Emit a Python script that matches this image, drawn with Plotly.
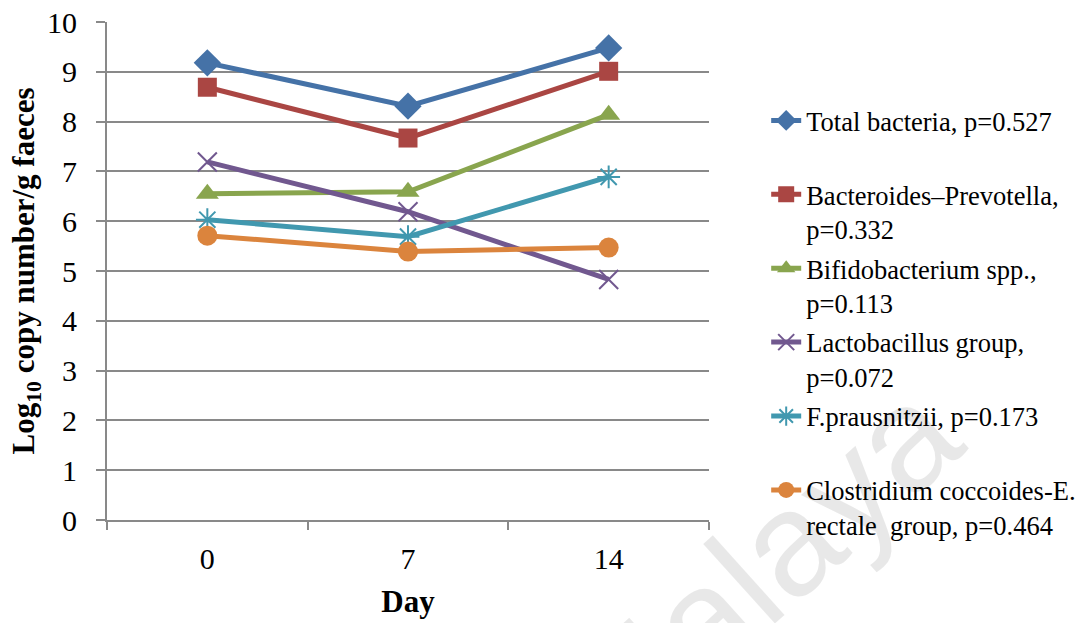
import plotly.graph_objects as go

# Sampling days (category axis) and log10 copy numbers per gram faeces
days = ["0", "7", "14"]

total_bacteria = [9.18, 8.31, 9.48]
bacteroides = [8.69, 7.67, 9.01]
bifidobacterium = [6.55, 6.59, 8.14]
lactobacillus = [7.19, 6.19, 4.83]
f_prausnitzii = [6.03, 5.69, 6.89]
clostridium = [5.71, 5.39, 5.47]

series_names = [
    "Total bacteria, p=0.527<br> ",
    "Bacteroides–Prevotella,<br>p=0.332",
    "Bifidobacterium spp.,<br>p=0.113",
    "Lactobacillus group,<br>p=0.072",
    "F.prausnitzii, p=0.173<br> ",
    "Clostridium coccoides-E.<br>rectale  group, p=0.464",
]
series_values = [total_bacteria, bacteroides, bifidobacterium,
                 lactobacillus, f_prausnitzii, clostridium]
colors = ["#4572A7", "#AA4643", "#89A54E", "#71588F", "#4198AF", "#DB843D"]
symbols = ["diamond", "square", "triangle-up", "x-thin-open",
           "asterisk-open", "circle"]
sizes = [21, 19, 20, 19, 19, 20]

GRID = "#898989"
FONT = "Liberation Serif"

fig = go.Figure()

# faint background watermark (translucent so overlapping text stays black)
fig.add_annotation(
    text="Malaya", xref="paper", yref="paper", x=1.473, y=-0.55,
    showarrow=False, textangle=-42,
    font=dict(family="Liberation Sans", size=148, color="rgba(0,0,0,0.09)"),
)

for i, (name, vals) in enumerate(zip(series_names, series_values)):
    thin = symbols[i].endswith("-open")
    fig.add_trace(go.Scatter(
        x=days, y=vals, name=name, mode="lines+markers",
        legendgroup=f"g{i}",
        line=dict(color=colors[i], width=5),
        marker=dict(symbol=symbols[i], size=sizes[i], color=colors[i],
                    line=dict(color=colors[i], width=2 if thin else 0)),
    ))

fig.update_layout(
    width=1087, height=623,
    margin=dict(l=107, r=378, t=22, b=103, autoexpand=False),
    paper_bgcolor="white", plot_bgcolor="white",
    font=dict(family=FONT, color="black"),
    showlegend=True,
    legend=dict(
        x=1.095, xanchor="left", y=0.85, yanchor="top",
        font=dict(family=FONT, size=26.5, color="black"),
        traceorder="grouped", tracegroupgap=2, valign="top",
        bgcolor="rgba(0,0,0,0)", itemwidth=30,
    ),
    xaxis=dict(
        type="category", categoryorder="array", categoryarray=days,
        range=[-0.5, 2.5],
        showline=True, linecolor=GRID, linewidth=2,
        ticks="outside", tickson="boundaries", ticklen=8,
        tickcolor=GRID, tickwidth=2, showgrid=False,
        tickfont=dict(family=FONT, size=30, color="black"),
        ticklabelstandoff=11,
        title=dict(text="<b>Day</b>", font=dict(family=FONT, size=31),
                   standoff=16),
    ),
    yaxis=dict(
        range=[0, 10], dtick=1, showgrid=True, gridcolor=GRID, gridwidth=2,
        showline=True, linecolor=GRID, linewidth=2, zeroline=False,
        ticks="outside", ticklen=9, tickcolor=GRID, tickwidth=2,
        tickfont=dict(family=FONT, size=30, color="black"),
        ticklabelstandoff=13,
        title=dict(text="<b>Log<sub>10</sub> copy number/g faeces</b>",
                   font=dict(family=FONT, size=31), standoff=3),
    ),
)

fig.write_html("out.html")
